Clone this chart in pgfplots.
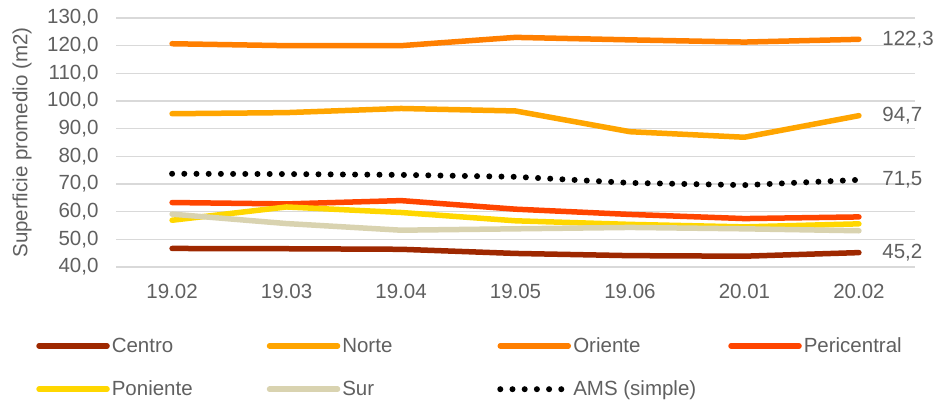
\documentclass[border=0pt]{standalone}
\usepackage{fontspec}
\setmainfont{Liberation Sans}
\usepackage{pgfplots}
\pgfplotsset{compat=1.18}

\definecolor{txt}{RGB}{96,96,96}
\definecolor{gridc}{RGB}{217,217,217}
\definecolor{centro}{RGB}{158,40,0}
\definecolor{norte}{RGB}{255,165,0}
\definecolor{oriente}{RGB}{255,127,0}
\definecolor{pericentral}{RGB}{255,69,0}
\definecolor{poniente}{RGB}{255,215,0}
\definecolor{sur}{RGB}{217,211,176}

\newcommand{\lbl}{\fontsize{20.5}{23}\selectfont}
\newcommand{\entry}[1]{\makebox[148pt][l]{#1}}

\begin{document}
\begin{tikzpicture}
\useasboundingbox (0pt,0pt) rectangle (948pt,401pt);
\begin{axis}[
  at={(116pt,134pt)}, anchor=south west,
  scale only axis, width=799pt, height=249pt,
  xmin=-0.49, xmax=6.49, ymin=40, ymax=130,
  axis line style={draw=none},
  ytick={40,50,...,130},
  xtick={0,...,6},
  xticklabels={19.02,19.03,19.04,19.05,19.06,20.01,20.02},
  ymajorgrids, grid style={gridc, line width=1.5pt},
  major tick style={draw=none},
  /pgf/number format/.cd, fixed, fixed zerofill, precision=1, use comma, assume math mode=true,
  /pgfplots/.cd,
  ticklabel style={font=\lbl, text=txt},
  yticklabel style={xshift=-14pt},
  xticklabel style={yshift=-14pt},
  ylabel={Superficie promedio (m2)},
  every axis y label/.style={at={(axis description cs:-0.1176,0.5)}, rotate=90, anchor=center, font=\lbl, text=txt},
  clip=false,
  legend columns=4,
  legend cell align=left,
  legend image code/.code={\draw[#1] (0pt,0pt) -- (68pt,0pt);},
  legend style={draw=none, fill=none, inner sep=0pt,
    at={(-0.1,-0.275)}, anchor=north west,
    font=\lbl, text=txt,
    /tikz/every even column/.append style={column sep=5pt},
    row sep=23pt},
  every axis plot/.append style={line width=5.5pt, line join=round},
]
\addplot[centro, line cap=round] coordinates {(0,46.7) (1,46.6) (2,46.4) (3,44.9) (4,44.1) (5,43.9) (6,45.2)};
\addlegendentry{\entry{Centro}}
\addplot[norte, line cap=round] coordinates {(0,95.4) (1,95.8) (2,97.3) (3,96.4) (4,88.9) (5,86.9) (6,94.7)};
\addlegendentry{\entry{Norte}}
\addplot[oriente, line cap=round] coordinates {(0,120.7) (1,120.0) (2,120.0) (3,123.0) (4,122.1) (5,121.3) (6,122.3)};
\addlegendentry{\entry{Oriente}}
\addplot[pericentral, line cap=round] coordinates {(0,63.3) (1,62.8) (2,64.0) (3,60.9) (4,59.0) (5,57.5) (6,58.1)};
\addlegendentry{\entry{Pericentral}}
\addplot[poniente, line cap=round] coordinates {(0,56.9) (1,61.7) (2,59.7) (3,56.7) (4,55.4) (5,54.5) (6,55.6)};
\addlegendentry{\entry{Poniente}}
\addplot[sur, line cap=round] coordinates {(0,59.1) (1,55.7) (2,53.3) (3,53.8) (4,54.3) (5,53.8) (6,53.1)};
\addlegendentry{\entry{Sur}}
\addplot[black, line cap=round, dash pattern=on 0pt off 12.2pt, line width=6pt] coordinates {(0,73.7) (1,73.6) (2,73.3) (3,72.6) (4,70.4) (5,69.6) (6,71.5)};
\addlegendentry{\entry{AMS (simple)}}

\node[anchor=west, text=txt, font=\lbl] at (axis cs:6,122.3) [xshift=20pt] {122,3};
\node[anchor=west, text=txt, font=\lbl] at (axis cs:6,94.7) [xshift=20pt] {94,7};
\node[anchor=west, text=txt, font=\lbl] at (axis cs:6,71.5) [xshift=20pt] {71,5};
\node[anchor=west, text=txt, font=\lbl] at (axis cs:6,45.2) [xshift=20pt] {45,2};
\end{axis}
\end{tikzpicture}
\end{document}
